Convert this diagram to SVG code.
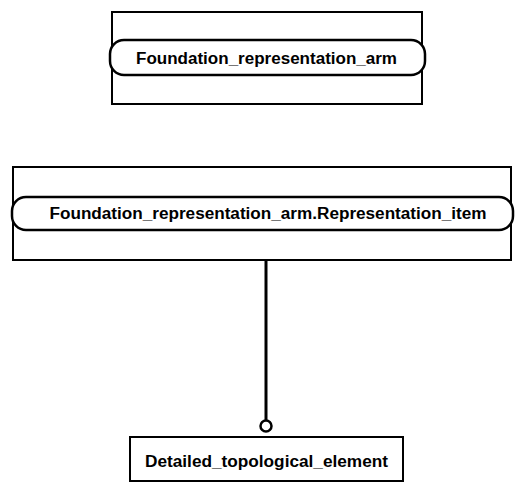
<svg xmlns="http://www.w3.org/2000/svg" width="515" height="484" viewBox="0 0 515 484">
<style>
.box{fill:#fff;stroke:#000;stroke-width:2}
.pill{fill:#fff;stroke:#000;stroke-width:2.5}
.t{font-family:"Liberation Sans",Arial,sans-serif;font-weight:bold;font-size:16px;fill:#000;text-anchor:middle;lengthAdjust:spacingAndGlyphs}
.ln{stroke:#000;stroke-width:3;fill:none}
</style>
<rect width="515" height="484" fill="#fff"/>
<g id="schema1">
<rect class="box" x="112" y="12" width="310" height="92"/>
<rect class="pill" x="110" y="40" width="315" height="35" rx="14" ry="14"/>
<text class="t" x="266.5" y="63.5" textLength="261" lengthAdjust="spacingAndGlyphs">Foundation_representation_arm</text>
</g>
<g id="schema2">
<rect class="box" x="13" y="167" width="498" height="93"/>
<rect class="pill" x="12" y="197" width="501" height="33" rx="14" ry="14"/>
<text class="t" x="268" y="218.5" textLength="437" lengthAdjust="spacingAndGlyphs">Foundation_representation_arm.Representation_item</text>
</g>
<g id="connectors">
<line class="ln" x1="266" y1="260" x2="266" y2="420"/>
<circle cx="266" cy="426" r="5.5" fill="#fff" stroke="#000" stroke-width="2.5"/>
</g>
<g id="entity">
<rect class="box" x="130" y="437" width="273" height="44"/>
<text class="t" x="266.5" y="466.5" textLength="243" lengthAdjust="spacingAndGlyphs">Detailed_topological_element</text>
</g>
</svg>
